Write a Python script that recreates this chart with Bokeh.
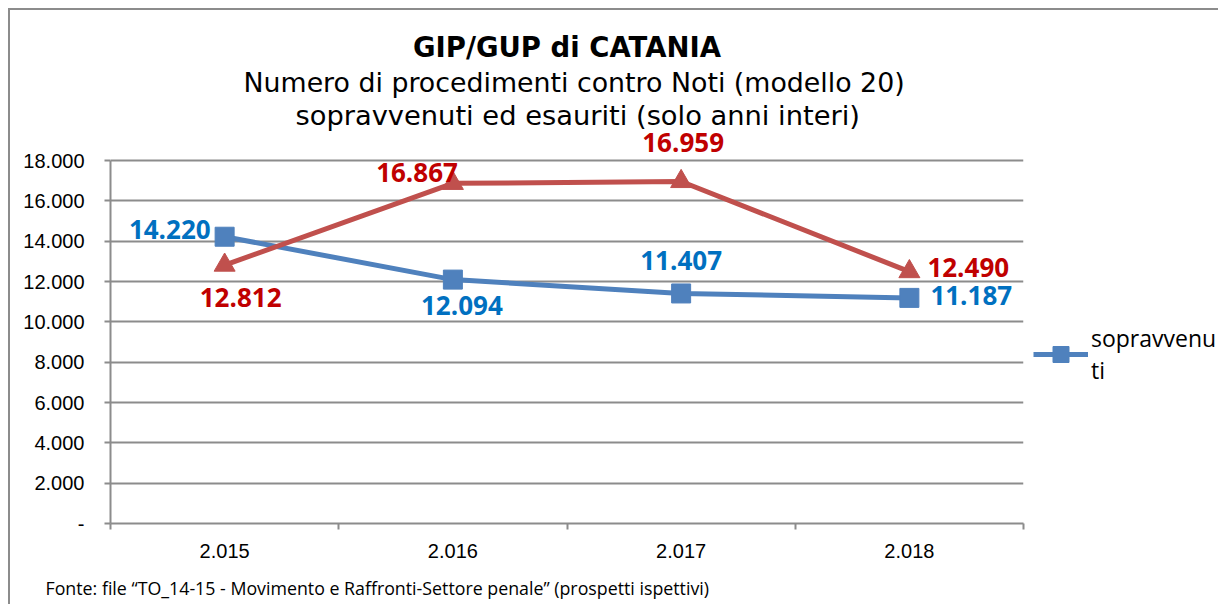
from bokeh.plotting import figure
from bokeh.models import (FixedTicker, Label, Legend, LegendItem, ColumnDataSource,
                          Range1d, Title)
from bokeh.embed import file_html
from bokeh.resources import INLINE

# ---- data ----
years = ["2.015", "2.016", "2.017", "2.018"]
sopravvenuti = [14220, 12094, 11407, 11187]
esauriti = [12812, 16867, 16959, 12490]
sop_labels = ["14.220", "12.094", "11.407", "11.187"]
esa_labels = ["12.812", "16.867", "16.959", "12.490"]
y_ticks = [0, 2000, 4000, 6000, 8000, 10000, 12000, 14000, 16000, 18000]
y_tick_labels = ["-", "2.000", "4.000", "6.000", "8.000", "10.000", "12.000",
                 "14.000", "16.000", "18.000"]
title_text = "GIP/GUP di CATANIA"
subtitle_1 = "Numero di procedimenti contro Noti (modello 20)"
subtitle_2 = "sopravvenuti ed esauriti (solo anni interi)"
footer_text = ("Fonte: file \u201cTO_14-15 - Movimento e Raffronti-Settore penale\u201d "
               "(prospetti ispettivi)")
legend_label = "sopravvenu\nti"

BLUE = "#4F81BD"
RED = "#C0504D"
BLUE_TXT = "#0070C0"
RED_TXT = "#C00000"
GRID = "#8C8C8C"

FRAME_W, FRAME_H = 913, 393
Y_AXIS_MAX = 18000
Y_MAX = Y_AXIS_MAX * FRAME_H / 363.0   # headroom above the top gridline for labels

xs = [i + 0.5 for i in range(len(years))]

p = figure(frame_width=FRAME_W, frame_height=FRAME_H, output_backend="svg",
           toolbar_location=None,
           x_range=Range1d(0, len(years)), y_range=Range1d(0, Y_MAX),
           min_border_left=100, min_border_right=195, min_border_top=120,
           min_border_bottom=81)
p.outline_line_color = None
p.background_fill_color = "white"
p.border_fill_color = "white"
p.styles = {"margin-left": "8px", "margin-top": "8px",
            "border-top": "2px solid #8C8C8C", "border-left": "2px solid #8C8C8C"}

# axes
p.xgrid.visible = False
p.ygrid.ticker = FixedTicker(ticks=y_ticks)
p.ygrid.grid_line_color = GRID
p.ygrid.grid_line_width = 2

p.yaxis.ticker = FixedTicker(ticks=y_ticks)
p.yaxis.bounds = (0, Y_AXIS_MAX)
p.yaxis.major_label_overrides = {t: l for t, l in zip(y_ticks, y_tick_labels)}
p.yaxis.axis_line_color = GRID
p.yaxis.axis_line_width = 2
p.yaxis.major_tick_line_color = GRID
p.yaxis.major_tick_line_width = 2
p.yaxis.major_tick_out = 6
p.yaxis.major_tick_in = 0
p.yaxis.minor_tick_line_color = None
p.yaxis.major_label_text_font = "Liberation Sans"
p.yaxis.major_label_text_font_size = "20px"
p.yaxis.major_label_text_color = "black"
p.yaxis.major_label_standoff = 20

p.xaxis.ticker = FixedTicker(ticks=xs, minor_ticks=list(range(len(years) + 1)))
p.xaxis.major_label_overrides = {x: y for x, y in zip(xs, years)}
p.xaxis.axis_line_color = GRID
p.xaxis.axis_line_width = 2
p.xaxis.major_tick_line_color = None
p.xaxis.major_tick_out = 0
p.xaxis.major_tick_in = 0
p.xaxis.minor_tick_line_color = GRID
p.xaxis.minor_tick_line_width = 2
p.xaxis.minor_tick_out = 6
p.xaxis.minor_tick_in = 0
p.xaxis.major_label_text_font = "Liberation Sans"
p.xaxis.major_label_text_font_size = "20px"
p.xaxis.major_label_text_color = "black"
p.xaxis.major_label_standoff = 14

src = ColumnDataSource(dict(x=xs, sop=sopravvenuti, esa=esauriti))

l_sop = p.line("x", "sop", source=src, line_color=BLUE, line_width=5)
m_sop = p.scatter("x", "sop", source=src, marker="square", size=19,
                  fill_color=BLUE, line_color=BLUE)
l_esa = p.line("x", "esa", source=src, line_color=RED, line_width=5)
m_esa = p.scatter("x", "esa", source=src, marker="triangle", size=21,
                  fill_color=RED, line_color=RED)

# data labels (align, x_offset, y_offset)
sop_pos = [("right", -14, 7), ("center", 9, -26), ("center", 0, 33), ("left", 21, 2)]
esa_pos = [("center", 16, -32), ("right", 5, 11), ("center", 2, 39), ("left", 18, 4)]
for vals, texts, poss, col in ((sopravvenuti, sop_labels, sop_pos, BLUE_TXT),
                               (esauriti, esa_labels, esa_pos, RED_TXT)):
    for x, v, t, (al, dx, dy) in zip(xs, vals, texts, poss):
        p.add_layout(Label(x=x, y=v, text=t, text_align=al, text_baseline="middle",
                           x_offset=dx, y_offset=dy, text_color=col,
                           text_font="Open Sans", text_font_style="bold",
                           text_font_size="26px"))

# titles: the later added is farther from the frame
p.add_layout(Title(text=subtitle_2, align="left", offset=185, standoff=0,
                   text_font="DejaVu Sans", text_font_size="27.3px",
                   text_font_style="normal", text_color="black"), "above")
p.add_layout(Title(text=subtitle_1, align="left", offset=133, standoff=0,
                   text_font="DejaVu Sans", text_font_size="26.8px",
                   text_font_style="normal", text_color="black"), "above")
p.add_layout(Title(text=title_text, align="center", standoff=3,
                   text_font="DejaVu Sans", text_font_size="27.5px",
                   text_font_style="bold", text_color="black"), "above")

# footer
p.add_layout(Title(text=footer_text, align="left", offset=-65, standoff=27,
                   text_font="Open Sans", text_font_size="17.8px",
                   text_font_style="normal", text_color="black"), "below")

legend = Legend(items=[LegendItem(label=legend_label, renderers=[l_sop, m_sop])],
                location=(10, 137), border_line_color=None,
                background_fill_alpha=0, padding=0, margin=0,
                glyph_width=55, glyph_height=40, label_standoff=3,
                label_text_font="Open Sans", label_text_font_size="23px",
                label_text_color="black")
p.add_layout(legend, "right")

open("out.html", "w").write(file_html(p, INLINE))
